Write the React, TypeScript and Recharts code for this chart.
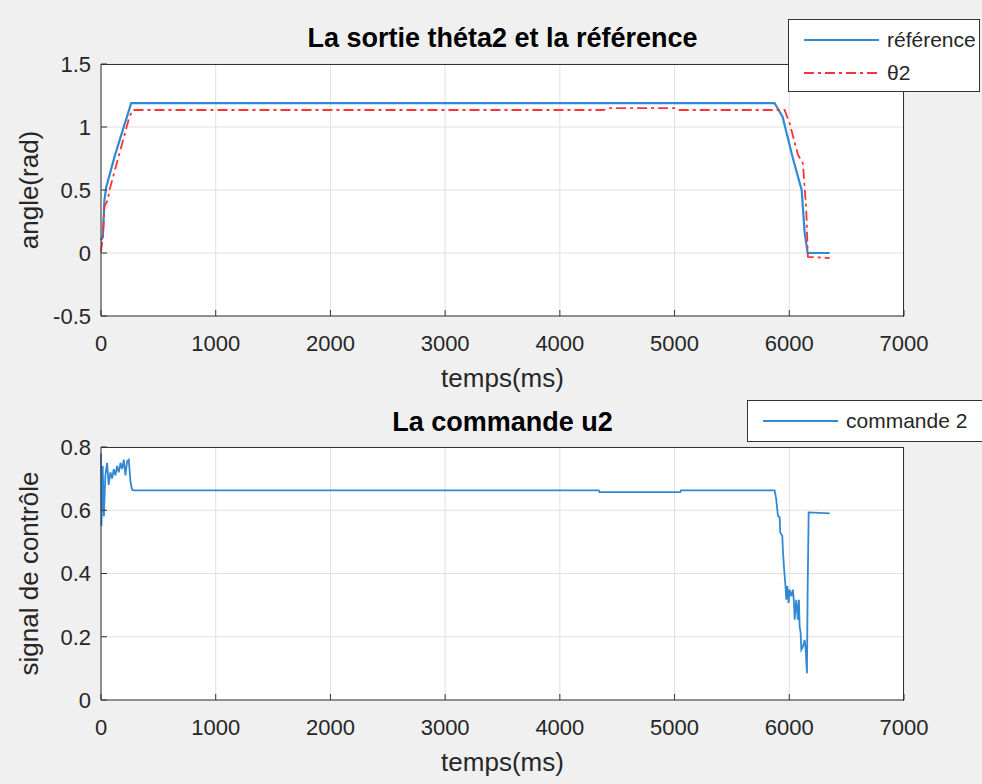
import { LineChart, Line, XAxis, YAxis, CartesianGrid } from "recharts";

// top plot: reference and measured theta2 (time in ms, angle in rad)
const refT = [0, 16, 30, 45, 118, 263, 5872, 5942, 6029, 6108, 6134, 6160, 6352];
const refV = [0.1, 0.13, 0.42, 0.52, 0.765, 1.19, 1.19, 1.08, 0.76, 0.5, 0.16, 0, 0];

const thetaT = [0, 16, 30, 59, 74, 248, 277, 4380, 4420, 5000, 5040, 5959, 6003, 6075, 6119, 6148, 6162, 6352];
const thetaV = [0.01, 0.13, 0.37, 0.42, 0.5, 1.08, 1.135, 1.135, 1.15, 1.15, 1.135, 1.135, 1.03, 0.78, 0.71, 0.34, -0.03, -0.04];

// bottom plot: control signal u2
const cmdT = [
    0, 4, 15, 25, 38, 53, 67, 82, 97, 111, 126, 140, 155, 170, 184, 199, 213, 228, 242, 257, 271, 285,
    4340, 4345, 5050, 5055,
    5872, 5886, 5901, 5916, 5921, 5939, 5944, 5953, 5965, 5974, 5983, 5994, 6003, 6018, 6032, 6041,
    6047, 6061, 6075, 6084, 6090, 6099, 6105, 6119, 6134, 6143, 6154, 6160, 6169, 6352,
];
const cmdV = [
    0.78, 0.55, 0.74, 0.58, 0.71, 0.75, 0.68, 0.72, 0.7, 0.73, 0.71, 0.74, 0.72, 0.75, 0.73, 0.76, 0.71, 0.755, 0.76, 0.69, 0.665, 0.663,
    0.663, 0.657, 0.657, 0.663,
    0.663, 0.635, 0.582, 0.577, 0.529, 0.519, 0.476, 0.423, 0.37, 0.317, 0.36, 0.307, 0.349, 0.328, 0.349, 0.307,
    0.254, 0.317, 0.254, 0.317, 0.233, 0.212, 0.159, 0.169, 0.19, 0.159, 0.085, 0.349, 0.593, 0.59,
];

const xTicks = [0, 1000, 2000, 3000, 4000, 5000, 6000, 7000];
const yTicksTop = [-0.5, 0, 0.5, 1, 1.5];
const yTicksBottom = [0, 0.2, 0.4, 0.6, 0.8];

const refData = refT.map((t, i) => ({ t, v: refV[i] }));
const thetaData = thetaT.map((t, i) => ({ t, v: thetaV[i] }));
const cmdData = cmdT.map((t, i) => ({ t, v: cmdV[i] }));

const FONT = '"Liberation Sans", Arial, sans-serif';
const AXIS = "#333";
const BLUE = "#3189d6";
const RED = "#ff3333";
const tickStyle = { fontSize: 22, fill: "#262626", fontFamily: FONT };

function Plot({ ylabel, yTicks, yDomain, top, bottom, children }: any) {
    return (
        <LineChart
            width={982}
            height={392}
            margin={{ top, right: 78, bottom, left: 0 }}
            style={{ fontFamily: FONT }}
        >
            <CartesianGrid stroke="#e0e0e0" fill="#fff" />
            <XAxis
                dataKey="t"
                type="number"
                domain={[0, 7000]}
                ticks={xTicks}
                interval={0}
                height={60}
                stroke={AXIS}
                tickSize={-6}
                tickMargin={25}
                tick={tickStyle}
                label={{ value: "temps(ms)", position: "insideTop", offset: 53, fontSize: 26, fill: "#262626" }}
            />
            <YAxis
                type="number"
                domain={yDomain}
                ticks={yTicks}
                interval={0}
                width={101}
                stroke={AXIS}
                tickSize={-6}
                tickMargin={16}
                tick={tickStyle}
                label={{
                    value: ylabel,
                    angle: -90,
                    position: "insideLeft",
                    offset: 29,
                    fontSize: 26,
                    fill: "#262626",
                    style: { textAnchor: "middle" },
                }}
            />
            {children}
        </LineChart>
    );
}

function Title({ text, top }: any) {
    return (
        <div
            style={{
                position: "absolute",
                left: 101,
                top,
                width: 803,
                textAlign: "center",
                fontFamily: FONT,
                fontWeight: "bold",
                fontSize: 27,
                lineHeight: "27px",
                color: "#000",
                whiteSpace: "nowrap",
            }}
        >
            {text}
        </div>
    );
}

function Frame({ top, height }: any) {
    return (
        <div
            style={{
                position: "absolute",
                left: 101,
                top,
                width: 803,
                height,
                boxSizing: "border-box",
                borderTop: `1px solid ${AXIS}`,
                borderRight: `1px solid ${AXIS}`,
                pointerEvents: "none",
            }}
        />
    );
}

function LegendRow({ color, dash, label, y }: any) {
    return (
        <div style={{ position: "absolute", left: 0, top: y, height: 24, display: "flex", alignItems: "center" }}>
            <svg width={92} height={24}>
                <line x1={15} x2={90} y1={12} y2={12} stroke={color} strokeWidth={2} strokeDasharray={dash} />
            </svg>
            <span style={{ marginLeft: 6, fontSize: 21, color: "#262626", fontFamily: FONT }}>{label}</span>
        </div>
    );
}

export default function App() {
    return (
        <div
            style={{
                position: "absolute",
                left: 0,
                top: 0,
                width: 982,
                height: 784,
                background: "#f0f0f0",
                overflow: "hidden",
            }}
        >
            <div style={{ position: "absolute", left: 0, top: 0 }}>
                <Plot ylabel="angle(rad)" yTicks={yTicksTop} yDomain={[-0.5, 1.5]} top={64} bottom={16}>
                    <Line data={refData} dataKey="v" type="linear" stroke={BLUE} strokeWidth={2.2} dot={false} isAnimationActive={false} />
                    <Line data={thetaData} dataKey="v" type="linear" stroke={RED} strokeWidth={1.8} strokeDasharray="10 4 3 4" dot={false} isAnimationActive={false} />
                </Plot>
            </div>
            <div style={{ position: "absolute", left: 0, top: 392 }}>
                <Plot ylabel="signal de contrôle" yTicks={yTicksBottom} yDomain={[0, 0.8]} top={55} bottom={24}>
                    <Line data={cmdData} dataKey="v" type="linear" stroke={BLUE} strokeWidth={1.8} dot={false} isAnimationActive={false} />
                </Plot>
            </div>

            <Frame top={64} height={253} />
            <Frame top={447} height={254} />
            <Title text="La sortie théta2 et la référence" top={25} />
            <Title text="La commande u2" top={409} />

            <div
                style={{
                    position: "absolute",
                    left: 788,
                    top: 19,
                    width: 190,
                    height: 71,
                    background: "#fff",
                    border: "1px solid #333",
                }}
            >
                <LegendRow color={BLUE} label="référence" y={8} />
                <LegendRow color={RED} dash="10 4 3 4" label="θ2" y={41} />
            </div>
            <div
                style={{
                    position: "absolute",
                    left: 747,
                    top: 400,
                    width: 236,
                    height: 40,
                    background: "#fff",
                    border: "1px solid #333",
                }}
            >
                <LegendRow color={BLUE} label="commande 2" y={8} />
            </div>
        </div>
    );
}
